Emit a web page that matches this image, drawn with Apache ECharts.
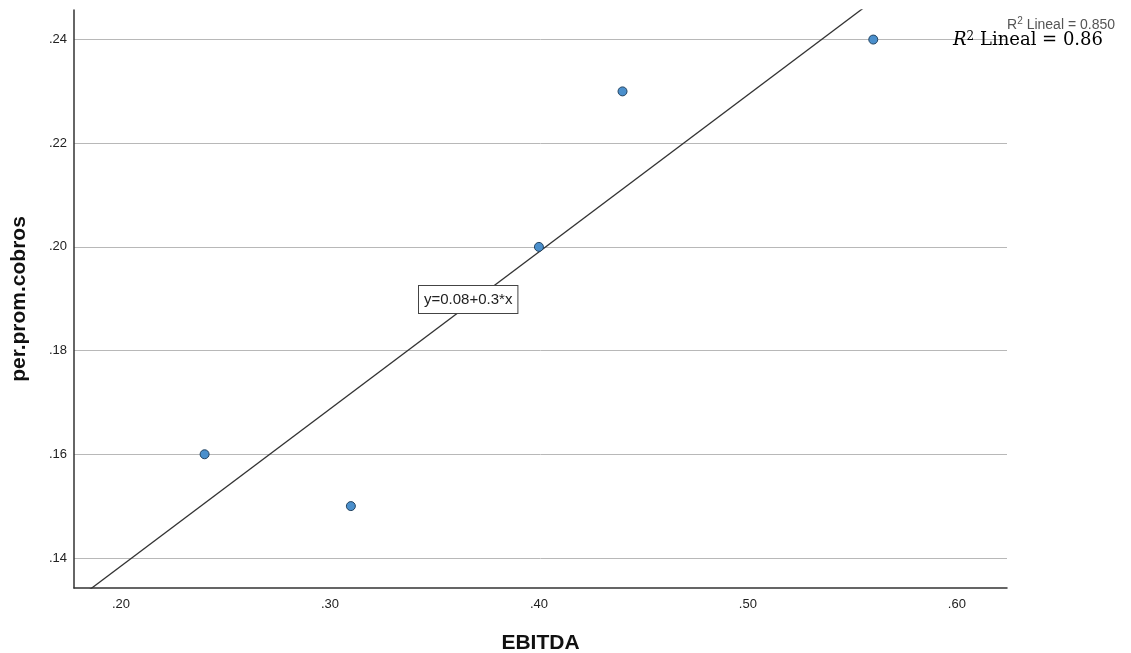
<!DOCTYPE html>
<html>
<head>
<meta charset="utf-8">
<style>html,body{margin:0;padding:0;background:#fff;}#c{width:1131px;height:653px;}</style>
<script src="https://cdn.jsdelivr.net/npm/echarts@6/dist/echarts.min.js"></script>
</head>
<body>
<div id="c"></div>
<script>
const ebitda = [0.24, 0.31, 0.40, 0.44, 0.56];
const cobros = [0.16, 0.15, 0.20, 0.23, 0.24];
const xTicks = [0.20, 0.30, 0.40, 0.50, 0.60];
const yTicks = [0.14, 0.16, 0.18, 0.20, 0.22, 0.24];
const xRange = [0.1775, 0.624];
const yRange = [0.1342, 0.2457];
const fitLabel = 'y=0.08+0.3*x';
const r2Small = '0.850';
const r2Big = '0.86';

// least-squares fit of the data
const n = ebitda.length;
const mx = ebitda.reduce((a, b) => a + b, 0) / n;
const my = cobros.reduce((a, b) => a + b, 0) / n;
let sxy = 0, sxx = 0;
for (let i = 0; i < n; i++) { sxy += (ebitda[i] - mx) * (cobros[i] - my); sxx += (ebitda[i] - mx) ** 2; }
const slope = sxy / sxx, icpt = my - slope * mx;
const fitLine = [[0.15, icpt + slope * 0.15], [0.65, icpt + slope * 0.65]];

const fmt = v => v.toFixed(2).replace(/^0/, '');
const chart = echarts.init(document.getElementById('c'));
chart.setOption({
  animation: false,
  grid: { left: 74, right: 124, top: 10, bottom: 65, containLabel: false, outerBoundsMode: 'none' },
  xAxis: {
    type: 'value', min: xRange[0], max: xRange[1],
    name: 'EBITDA', nameLocation: 'middle', nameGap: 45,
    nameTextStyle: { fontFamily: 'Liberation Sans', fontWeight: 'bold', fontSize: 21, color: '#111' },
    axisLine: { show: true, onZero: false, lineStyle: { color: '#333', width: 1.5 } },
    axisTick: { show: false, customValues: xTicks },
    axisLabel: { customValues: xTicks, formatter: fmt, color: '#222', fontSize: 13, fontFamily: 'Liberation Sans', margin: 10 },
    splitLine: { show: false }
  },
  yAxis: {
    type: 'value', min: yRange[0], max: yRange[1],
    name: 'per.prom.cobros', nameLocation: 'middle', nameGap: 44,
    nameTextStyle: { fontFamily: 'Liberation Sans', fontWeight: 'bold', fontSize: 21, color: '#111' },
    axisLine: { show: true, onZero: false, lineStyle: { color: '#333', width: 1.5 } },
    axisTick: { show: false, customValues: yTicks },
    axisLabel: { customValues: yTicks, formatter: fmt, color: '#222', fontSize: 13, fontFamily: 'Liberation Sans', margin: 7 },
    splitLine: { show: true, lineStyle: { color: '#b8b8b8', width: 1 } }
  },
  series: [
    {
      type: 'line', data: fitLine, symbol: 'none', clip: true,
      lineStyle: { color: '#333', width: 1.3 }, z: 2
    },
    {
      type: 'scatter', data: ebitda.map((x, i) => [x, cobros[i]]),
      symbolSize: 9,
      itemStyle: { color: '#4a8fcc', borderColor: '#22425f', borderWidth: 1, opacity: 1 }, z: 3
    }
  ],
  graphic: [
    {
      type: 'text', left: 418, top: 285, z: 10,
      style: {
        text: fitLabel, fontFamily: 'Liberation Sans', fontSize: 15, fill: '#222',
        backgroundColor: '#fff', borderColor: '#444', borderWidth: 1, padding: [6, 5, 6, 5]
      }
    },
    {
      type: 'text', right: 16, top: 16, z: 10,
      style: {
        text: '{n|R}{s|2}{n| Lineal = ' + r2Small + '}',
        rich: {
          n: { fontFamily: 'Liberation Sans', fontSize: 14, fill: '#555', verticalAlign: 'bottom' },
          s: { fontFamily: 'Liberation Sans', fontSize: 10, fill: '#555', verticalAlign: 'top', padding: [0, 0, 6, 0] }
        }
      }
    },
    {
      type: 'text', right: 28, top: 31, z: 11,
      style: {
        text: '{i|R}{s|2}{n| Lineal = ' + r2Big + '}',
        rich: {
          i: { fontFamily: 'DejaVu Serif', fontStyle: 'italic', fontSize: 18, fill: '#000' },
          s: { fontFamily: 'DejaVu Serif', fontSize: 12, fill: '#000', padding: [0, 0, 7, 0] },
          n: { fontFamily: 'DejaVu Serif', fontSize: 18, fill: '#000' }
        }
      }
    }
  ]
});
</script>
</body>
</html>
